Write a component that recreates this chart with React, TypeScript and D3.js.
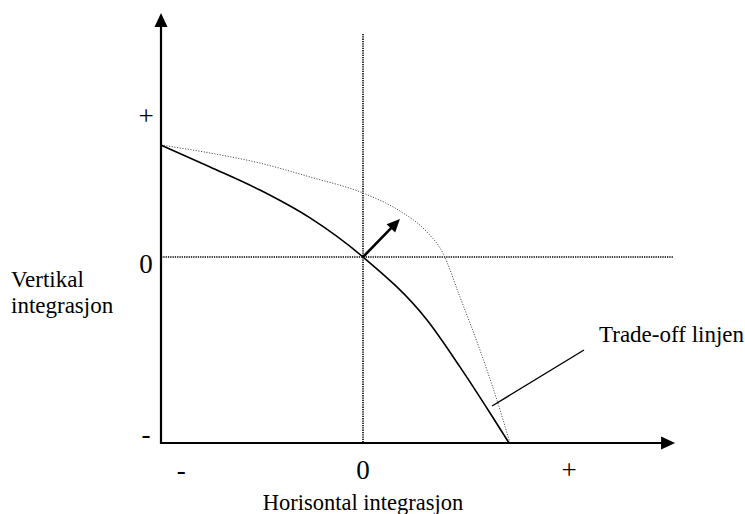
import React from "react";
import * as d3 from "d3";

// Conceptual chart: units where the y-axis sits at x = -1 and the x-axis at y = -1
const tradeOffX = [-1, -0.757, -0.51, -0.262, 0, 0.317, 0.48, 0.629, 0.723];
const tradeOffY = [0.602, 0.484, 0.36, 0.21, 0, -0.339, -0.591, -0.839, -1];

const frontierX = [-1, -0.757, -0.51, -0.262, 0, 0.183, 0.307, 0.396, 0.48, 0.579, 0.663, 0.728];
const frontierY = [0.602, 0.559, 0.505, 0.43, 0.344, 0.247, 0.145, 0.02, -0.215, -0.5, -0.769, -1];

const shiftArrow = [[0, 0], [0.183, 0.204]];
const leaderLine = [[0.639, -0.801], [1.094, -0.5]];

const xAxisEnd = 1.545;
const yAxisEnd = 1.312;
const vRefTop = 1.199;
const hRefEnd = 1.535;

const yTickLabels = ["+", "0", "-"];
const yTickValues = [0.753, 0, -1];
const xTickLabels = ["-", "0", "+"];
const xTickValues = [-0.9, 0, 1.02];

const xTitle = "Horisontal integrasjon";
const yTitleLines = ["Vertikal", "integrasjon"];
const curveLabel = "Trade-off linjen";

export default function App() {
  const W = 745;
  const H = 514;
  const x = d3.scaleLinear().domain([-1, 0]).range([161, 363]);
  const y = d3.scaleLinear().domain([-1, 0]).range([443, 257]);

  const line = d3
    .line<[number, number]>()
    .x((d) => x(d[0]))
    .y((d) => y(d[1]))
    .curve(d3.curveMonotoneX);

  const tradeOff = tradeOffX.map((v, i) => [v, tradeOffY[i]] as [number, number]);
  const frontier = frontierX.map((v, i) => [v, frontierY[i]] as [number, number]);

  const font = "Liberation Serif, Tinos, Times New Roman, serif";

  // arrow from origin
  const ax0 = x(shiftArrow[0][0]);
  const ay0 = y(shiftArrow[0][1]);
  const ax1 = x(shiftArrow[1][0]);
  const ay1 = y(shiftArrow[1][1]);
  const ang = Math.atan2(ay1 - ay0, ax1 - ax0);
  const headLen = 13;
  const headW = 6;
  const bx = ax1 - headLen * Math.cos(ang);
  const by = ay1 - headLen * Math.sin(ang);
  const px = -Math.sin(ang) * headW;
  const py = Math.cos(ang) * headW;

  const x0 = x(-1);
  const yBase = y(-1);
  const xTip = x(xAxisEnd);
  const yTip = y(yAxisEnd);

  return (
    <svg
      width={W}
      height={H}
      style={{ position: "absolute", left: 0, top: 0, background: "#fff", display: "block" }}
    >
      {/* reference dotted lines */}
      <line x1={x(0)} x2={x(0)} y1={y(vRefTop)} y2={yBase} stroke="#000" strokeWidth={1.6} strokeDasharray="1.3,1" />
      <line x1={x0} x2={x(hRefEnd)} y1={y(0)} y2={y(0)} stroke="#000" strokeWidth={1.6} strokeDasharray="1.3,1" />

      {/* dotted frontier */}
      <path d={line(frontier) || ""} fill="none" stroke="#555" strokeWidth={1} strokeDasharray="1.2,1.5" />

      {/* trade-off line */}
      <path d={line(tradeOff) || ""} fill="none" stroke="#000" strokeWidth={1.6} />

      {/* leader line */}
      <line
        x1={x(leaderLine[0][0])}
        y1={y(leaderLine[0][1])}
        x2={x(leaderLine[1][0])}
        y2={y(leaderLine[1][1])}
        stroke="#000"
        strokeWidth={1.4}
      />

      {/* arrow from origin */}
      <line x1={ax0} y1={ay0} x2={bx + 2 * Math.cos(ang)} y2={by + 2 * Math.sin(ang)} stroke="#000" strokeWidth={2.6} />
      <polygon points={`${ax1},${ay1} ${bx + px},${by + py} ${bx - px},${by - py}`} fill="#000" />

      {/* axes */}
      <line x1={x0} x2={x0} y1={yBase + 1} y2={yTip + 12} stroke="#000" strokeWidth={2.2} />
      <polygon points={`${x0},${yTip} ${x0 - 6.5},${yTip + 14} ${x0 + 6.5},${yTip + 14}`} fill="#000" />
      <line x1={x0 - 1} x2={xTip - 12} y1={yBase} y2={yBase} stroke="#000" strokeWidth={2.2} />
      <polygon points={`${xTip},${yBase} ${xTip - 14},${yBase - 6.5} ${xTip - 14},${yBase + 6.5}`} fill="#000" />

      {/* y tick labels */}
      {yTickLabels.map((t, i) => (
        <text
          key={"y" + i}
          x={146}
          y={y(yTickValues[i]) + (t === "0" ? 16 : t === "+" ? 8 : 0)}
          textAnchor="middle"
          fontFamily={font}
          fontSize={27}
          fill="#000"
        >
          {t}
        </text>
      ))}

      {/* x tick labels */}
      {xTickLabels.map((t, i) => (
        <text
          key={"x" + i}
          x={x(xTickValues[i])}
          y={479}
          textAnchor="middle"
          fontFamily={font}
          fontSize={27}
          fill="#000"
        >
          {t}
        </text>
      ))}

      {/* titles */}
      <text x={x(0)} y={510} textAnchor="middle" fontFamily={font} fontSize={22.5} fill="#000">
        {xTitle}
      </text>
      {yTitleLines.map((l, i) => (
        <text key={"yt" + i} x={11} y={287 + i * 26} fontFamily={font} fontSize={23} fill="#000">
          {l}
        </text>
      ))}
      <text x={599} y={342} fontFamily={font} fontSize={23} fill="#000">
        {curveLabel}
      </text>
    </svg>
  );
}
